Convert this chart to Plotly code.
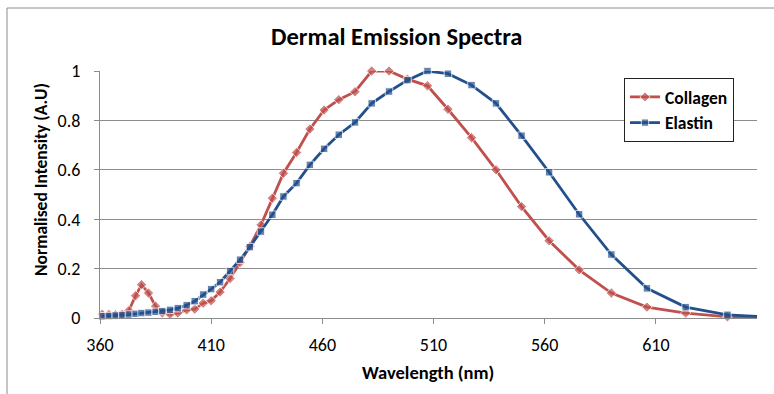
import plotly.graph_objects as go

# Emission wavelengths (nm), shared by both spectra
wavelength = [361, 364, 367, 370, 373, 376, 378.7, 381.8, 385, 388, 391.5, 395, 399,
              402.6, 406.4, 410, 414, 418.5, 423, 427.4, 432.4, 437.5, 442.5, 448.4,
              454.4, 460.8, 467.4, 474.7, 482.2, 490, 498.3, 507.3, 516.5, 527.1,
              538.1, 549.6, 562, 575.5, 590, 606, 623.4, 642.2, 662]

collagen = [0.015, 0.014, 0.013, 0.015, 0.03, 0.09, 0.135, 0.101, 0.048, 0.02, 0.015,
            0.02, 0.033, 0.036, 0.06, 0.07, 0.105, 0.16, 0.225, 0.29, 0.377, 0.485,
            0.586, 0.67, 0.765, 0.842, 0.884, 0.916, 1.0, 1.0, 0.967, 0.94, 0.845,
            0.73, 0.60, 0.451, 0.313, 0.195, 0.101, 0.044, 0.02, 0.005, 0.001]

elastin = [0.007, 0.008, 0.01, 0.012, 0.014, 0.017, 0.02, 0.022, 0.025, 0.028, 0.033,
           0.04, 0.052, 0.068, 0.095, 0.117, 0.145, 0.19, 0.236, 0.287, 0.35, 0.418,
           0.492, 0.546, 0.62, 0.685, 0.742, 0.792, 0.869, 0.917, 0.963, 1.0, 0.989,
           0.943, 0.869, 0.738, 0.59, 0.42, 0.257, 0.12, 0.044, 0.013, 0.003]

x_ticks = [360, 410, 460, 510, 560, 610]
y_ticks = [0, 0.2, 0.4, 0.6, 0.8, 1]

X_MIN, X_MAX = 360, 655.5
FONT = "Carlito, Lato, 'Liberation Sans', sans-serif"
RED = "#C0504D"
BLUE = "#23508C"
GRID = "#8C8C8C"


def marker_sizes(xs, size):
    # hide markers that fall past the end of the axis
    return [size if X_MIN <= v <= X_MAX else 0 for v in xs]


fig = go.Figure()
fig.add_trace(go.Scatter(
    x=wavelength, y=collagen, name="Collagen", mode="lines+markers",
    line=dict(color=RED, width=2.8),
    marker=dict(symbol="diamond", size=marker_sizes(wavelength, 8), color=RED),
    cliponaxis=False,
))
fig.add_trace(go.Scatter(
    x=wavelength, y=elastin, name="Elastin", mode="lines+markers",
    line=dict(color=BLUE, width=2.8),
    marker=dict(symbol="square", size=marker_sizes(wavelength, 7.5), color=BLUE),
    cliponaxis=False,
))

fig.update_layout(
    width=774, height=394,
    margin=dict(l=100, r=17, t=71, b=76),
    paper_bgcolor="white", plot_bgcolor="white",
    font=dict(family=FONT, size=18, color="black"),
    showlegend=True,
    legend=dict(
        x=(624 - 100) / 657, y=(318 - 78) / 247, xanchor="left", yanchor="top",
        bgcolor="white", bordercolor="#222222", borderwidth=1,
        font=dict(family=FONT, size=17.5, color="black", weight="bold"),
        itemwidth=30, tracegroupgap=3,
    ),
    xaxis=dict(
        range=[X_MIN, X_MAX], tickvals=x_ticks, ticktext=[str(v) for v in x_ticks],
        showgrid=False, zeroline=False, showline=True, linecolor=GRID, linewidth=1,
        ticks="outside", ticklen=5, tickcolor=GRID, tickfont=dict(size=18),
        ticklabelstandoff=5,
    ),
    yaxis=dict(
        range=[0, 1], tickvals=y_ticks, ticktext=["0", "0.2", "0.4", "0.6", "0.8", "1"],
        showgrid=True, gridcolor=GRID, gridwidth=1, zeroline=False,
        showline=True, linecolor=GRID, linewidth=1,
        ticks="outside", ticklen=5, tickcolor=GRID, tickfont=dict(size=18),
        ticklabelstandoff=10,
    ),
    annotations=[
        dict(text="<b>Dermal Emission Spectra</b>", xref="paper", yref="paper",
             x=(396 - 100) / 657, y=(318 - 37) / 247, xanchor="center", yanchor="middle",
             showarrow=False, font=dict(size=24.5, family=FONT)),
        dict(text="<b>Wavelength (nm)</b>", xref="paper", yref="paper",
             x=(428 - 100) / 657, y=(318 - 372) / 247, xanchor="center", yanchor="middle",
             showarrow=False, font=dict(size=18.5, family=FONT)),
        dict(text="<b>Normalised Intensity (A.U)</b>", xref="paper", yref="paper",
             x=(41 - 100) / 657, y=(318 - 180) / 247, xanchor="center", yanchor="middle",
             textangle=-90, showarrow=False, font=dict(size=17.5, family=FONT)),
    ],
    shapes=[
        # chart area border
        dict(type="rect", xref="paper", yref="paper",
             x0=(7 - 100) / 657, x1=(800 - 100) / 657,
             y0=(318 - 420) / 247, y1=(318 - 8) / 247,
             line=dict(color="#8C8C8C", width=1), fillcolor="rgba(0,0,0,0)", layer="below"),
    ],
)

fig.write_html("out.html")
